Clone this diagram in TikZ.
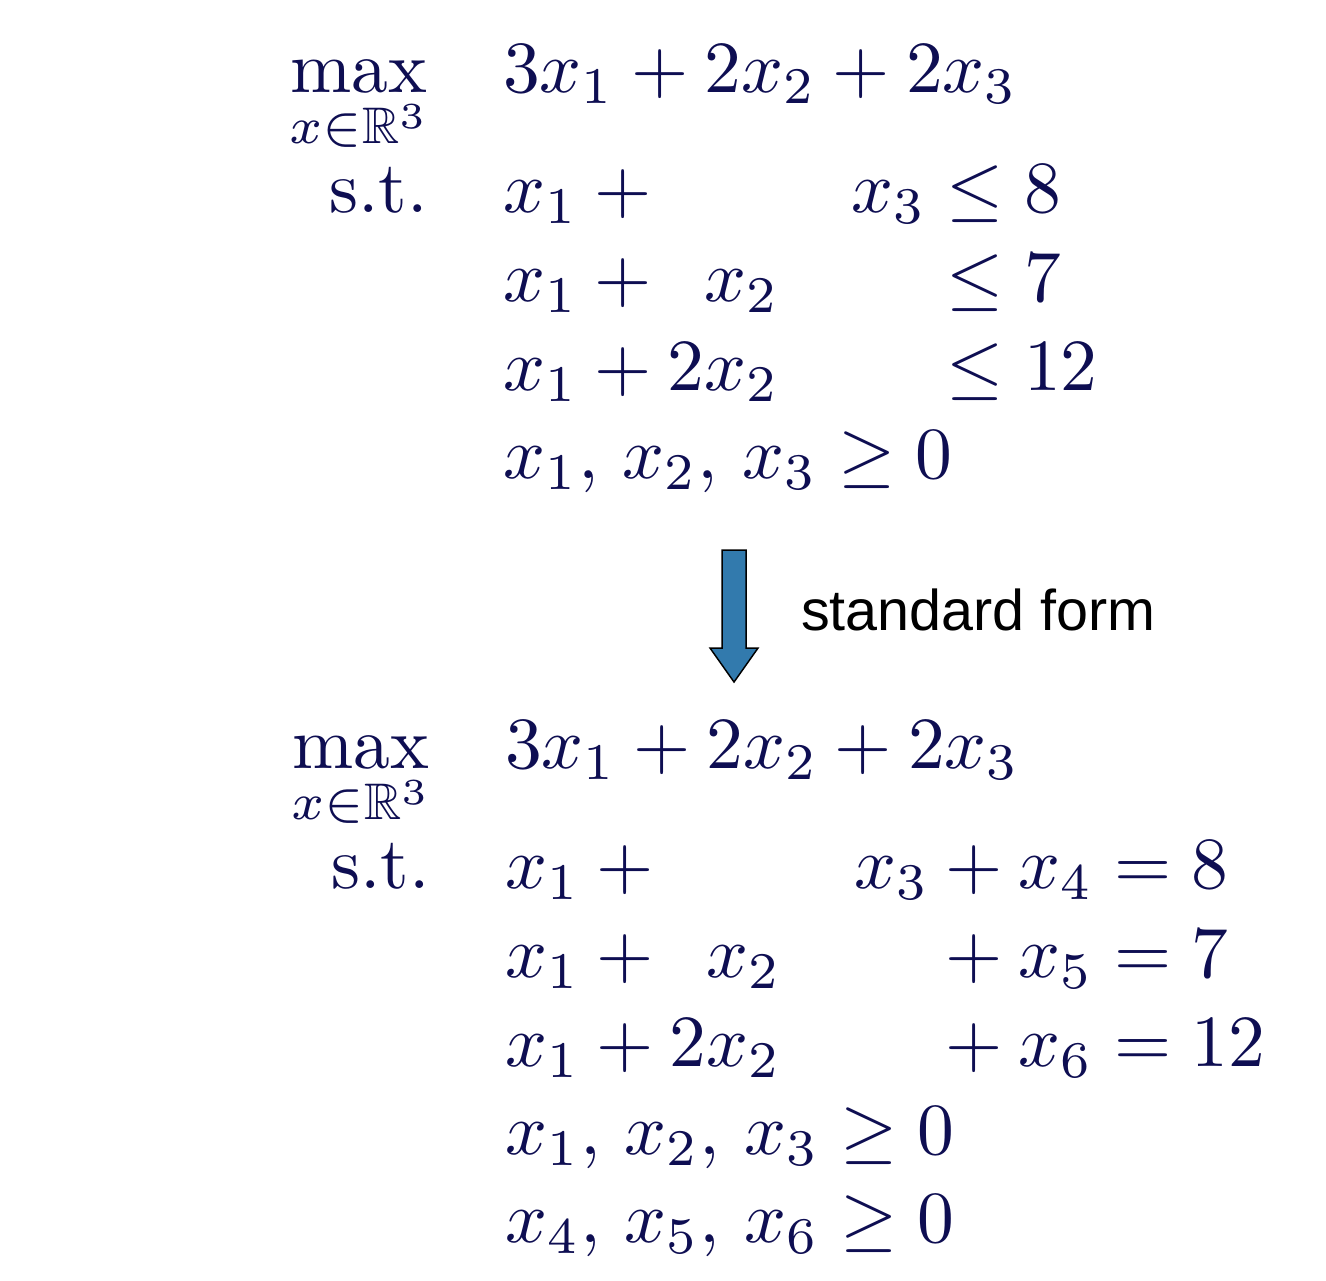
\documentclass[tikz,border=0pt]{standalone}
\usepackage{amsmath,amssymb}
\usepackage{fontspec}
\newfontfamily\labelfont{Liberation Sans}
\definecolor{navy}{RGB}{14,14,82}
\definecolor{arrowblue}{RGB}{50,122,173}
\begin{document}
\begin{tikzpicture}[x=0.13605pt,y=-0.13605pt,
  term/.style={inner sep=0pt,outer sep=0pt,text=navy,anchor=base west},
  lhs/.style={inner sep=0pt,outer sep=0pt,text=navy,anchor=base east},
  note/.style={inner sep=0pt,outer sep=0pt,anchor=base west,font=\labelfont\fontsize{7.82}{9}\selectfont}]
\useasboundingbox (0,0) rectangle (1326,1280);
% ---- original problem ----
\node[lhs] (tmax) at (428,92) {$\displaystyle\max_{x\in\mathbb{R}^3}$};
\node[lhs] (tst) at (428,212) {s.t.};
\node[term] (t0) at (503,92) {$3x_1 + 2x_2 + 2x_3$};
\node[term] (t1a) at (503,212) {$x_1 + {}$};
\node[term] (t1b) at (851,212) {$x_3 \le 8$};
\node[term] (t2a) at (503,301) {$x_1 + \hphantom{2}x_2$};
\node[term] (t2b) at (851,301) {$\hphantom{x_3} \le 7$};
\node[term] (t3a) at (503,390) {$x_1 + 2x_2$};
\node[term] (t3b) at (851,390) {$\hphantom{x_3} \le 12$};
\node[term] (t4) at (503,478) {$x_1,\, x_2,\, x_3 \ge 0$};
% ---- arrow ----
\path[fill=arrowblue,draw=black,line width=0.2pt,line join=miter]
  (722,550) -- (746,550) -- (746,648) -- (758,648) -- (734,682) -- (710,648) -- (722,648) -- cycle;
\node[note] (lab) at (801,630) {standard form};
% ---- standard form ----
\node[lhs] (bmax) at (430,768) {$\displaystyle\max_{x\in\mathbb{R}^3}$};
\node[lhs] (bst) at (430,888) {s.t.};
\node[term] (b0) at (505,768) {$3x_1 + 2x_2 + 2x_3$};
\node[term] (b1a) at (505,888) {$x_1 + {}$};
\node[term] (b1b) at (854,888) {$x_3 + x_4 = 8$};
\node[term] (b2a) at (505,977) {$x_1 + \hphantom{2}x_2$};
\node[term] (b2b) at (854,977) {$\hphantom{x_3} + x_5 = 7$};
\node[term] (b3a) at (505,1066) {$x_1 + 2x_2$};
\node[term] (b3b) at (854,1066) {$\hphantom{x_3} + x_6 = 12$};
\node[term] (b4) at (505,1154) {$x_1,\, x_2,\, x_3 \ge 0$};
\node[term] (b5) at (505,1242) {$x_4,\, x_5,\, x_6 \ge 0$};
\end{tikzpicture}
\end{document}
